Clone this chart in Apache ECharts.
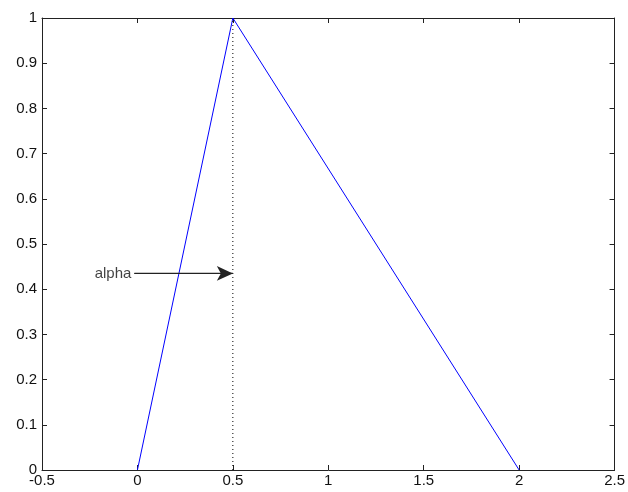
<!DOCTYPE html>
<html><head><meta charset="utf-8">
<script src="https://cdn.jsdelivr.net/npm/echarts@6/dist/echarts.min.js"></script>
<style>html,body{margin:0;padding:0;background:#fff}#c{width:628px;height:492px}</style>
</head><body><div id="c"></div>
<script>
var xTicks = [-0.5, 0, 0.5, 1, 1.5, 2, 2.5];
var yTicks = [0, 0.1, 0.2, 0.3, 0.4, 0.5, 0.6, 0.7, 0.8, 0.9, 1];
var triX = [0, 0.5, 2];
var triY = [0, 1, 0];
var dashX = [0.5, 0.5];
var dashY = [0, 1];
var arrowFrom = [-0.016, 0.435];
var arrowTo = [0.5, 0.435];
var annotation = 'alpha';

var chart = echarts.init(document.getElementById('c'), null, {renderer: 'canvas'});
var font = {fontFamily: 'Liberation Sans, Arial, sans-serif', fontSize: 15, color: '#111'};
function fmt(v){ return String(v); }
var axisBase = {
  min: 0, max: 1, interval: 0.1,
  axisLine: {show: true, onZero: false, lineStyle: {color: '#222', width: 1}},
  axisTick: {show: true, inside: true, length: 5, lineStyle: {color: '#222'}},
  splitLine: {show: false}
};
var option = {
  animation: false,
  backgroundColor: '#fff',
  grid: {left: 42, right: 11, top: 18, bottom: 22, containLabel: false},
  xAxis: [
    Object.assign({}, axisBase, {type: 'value', min: -0.5, max: 2.5, interval: 0.5, position: 'bottom',
      axisLabel: Object.assign({margin: 3, formatter: fmt}, font)}),
    Object.assign({}, axisBase, {type: 'value', min: -0.5, max: 2.5, interval: 0.5, position: 'top',
      axisLabel: {show: false}})
  ],
  yAxis: [
    Object.assign({}, axisBase, {type: 'value', position: 'left',
      axisLabel: Object.assign({margin: 5, formatter: fmt}, font)}),
    Object.assign({}, axisBase, {type: 'value', position: 'right', axisLabel: {show: false}})
  ],
  series: [
    {type: 'line', data: triX.map(function(x,i){return [x, triY[i]];}), showSymbol: false,
     lineStyle: {color: '#0000ff', width: 1}, silent: true},
    {type: 'line', data: dashX.map(function(x,i){return [x, dashY[i]];}), showSymbol: false,
     lineStyle: {color: '#000', width: 1, type: [1, 3]}, silent: true},
    {type: 'line', data: [arrowFrom, arrowTo], showSymbol: false,
     lineStyle: {color: '#222', width: 1.2}, silent: true,
     markLine: {silent: true, symbol: ['none', 'arrow'], symbolSize: [11, 16],
       lineStyle: {color: '#222', width: 1.2, type: 'solid'}, label: {show: false},
       data: [[{coord: arrowFrom}, {coord: arrowTo}]]}},
    {type: 'scatter', data: [arrowFrom], symbolSize: 0, silent: true,
     label: Object.assign({show: true, position: 'left', distance: 3, formatter: annotation}, font)}
  ]
};
chart.setOption(option);
</script></body></html>
